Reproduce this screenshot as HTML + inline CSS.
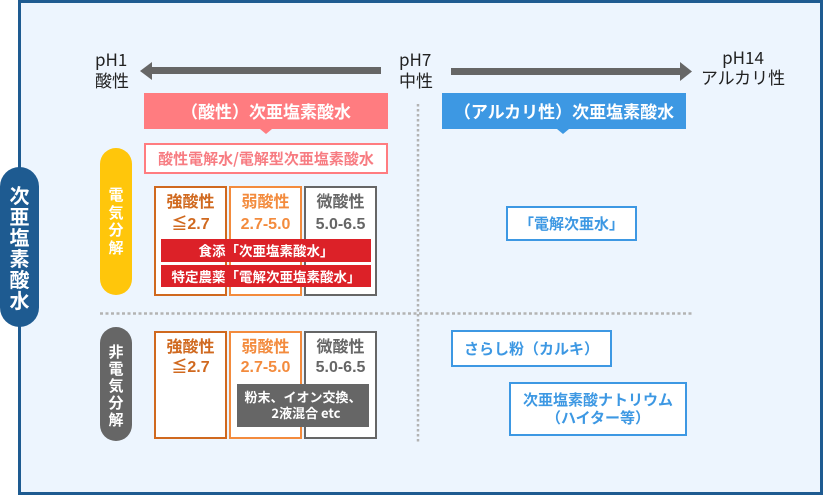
<!DOCTYPE html>
<html><head><meta charset="utf-8">
<style>
*{margin:0;padding:0;box-sizing:border-box}
html,body{width:823px;height:495px;overflow:hidden;background:#fff}
body{position:relative;font-family:"Liberation Sans","Noto Sans CJK JP",sans-serif}
.a{position:absolute}
.frame{left:18px;top:0;width:805px;height:495px;border:3px solid #1e5b91;background:#edf5fe}
.lbl{font-size:17px;line-height:21px;color:#222;font-family:"Noto Sans CJK JP",sans-serif}
.ban{height:36px;width:244px;top:93px;color:#fff;font-weight:bold;font-size:17px;line-height:36px;text-align:center;font-family:"Noto Sans CJK JP",sans-serif}
.tri{width:0;height:0;border-left:6px solid transparent;border-right:6px solid transparent;top:129px}
.box{border:2px solid;background:#fff;text-align:center;font-weight:bold;font-family:"Liberation Sans","Noto Sans CJK JP",sans-serif}
.vt{color:#fff;font-weight:bold;text-align:center;font-family:"Noto Sans CJK JP",sans-serif}
.red{left:161px;width:210px;background:#dc2128;color:#fff;font-weight:bold;font-size:13.5px;text-align:center;font-family:"Noto Sans CJK JP",sans-serif}
.bl{border:2px solid #3d98e3;background:#fff;color:#3d98e3;font-weight:bold;font-size:15px;text-align:center;font-family:"Noto Sans CJK JP",sans-serif}
</style></head><body>
<div class="a frame"></div>

<svg class="a" style="left:0;top:0" width="823" height="495">
  <rect x="151" y="67" width="230" height="7" fill="#666"/>
  <polygon points="140,71 152,62 152,80" fill="#666"/>
  <rect x="451" y="68" width="231" height="7" fill="#666"/>
  <polygon points="692,71.5 680,62 680,81" fill="#666"/>
  <line x1="418" y1="104" x2="418" y2="442" stroke="#b3b3b3" stroke-width="2.5" stroke-dasharray="2.5 2.5"/>
  <line x1="100" y1="313.5" x2="692" y2="313.5" stroke="#b3b3b3" stroke-width="2.5" stroke-dasharray="3 2.5"/>
</svg>

<div class="a vt" style="left:0;top:167px;width:39px;height:160px;background:#1e5b91;border-radius:20px;font-size:20px;line-height:21px;padding-top:17px">次<br>亜<br>塩<br>素<br>酸<br>水</div>

<div class="a lbl" style="left:95px;top:48px">pH1<br>酸性</div>
<div class="a lbl" style="left:399px;top:48px">pH7<br>中性</div>
<div class="a lbl" style="left:693px;top:47px;width:100px;text-align:center;line-height:20px">pH14<br>アルカリ性</div>

<div class="a ban" style="left:144px;background:#ff7c80">（酸性）次亜塩素酸水</div>
<div class="a tri" style="left:260px;border-top:5px solid #ff7c80"></div>
<div class="a ban" style="left:442px;background:#3d98e3">（アルカリ性）次亜塩素酸水</div>
<div class="a tri" style="left:557px;border-top:5px solid #3d98e3"></div>

<div class="a" style="left:144px;top:143px;width:244px;height:31px;border:2px solid #ff7c80;background:#fff;color:#f77c82;font-weight:bold;font-size:15px;line-height:27px;text-align:center;font-family:'Noto Sans CJK JP',sans-serif">酸性電解水/電解型次亜塩素酸水</div>

<div class="a vt" style="left:100px;top:148px;width:32px;height:147px;background:#ffc60b;border-radius:16px;font-size:15px;line-height:17.7px;padding-top:38px">電<br>気<br>分<br>解</div>

<div class="a vt" style="left:100px;top:327px;width:32px;height:114px;background:#666;border-radius:16px;font-size:15px;line-height:17px;padding-top:16px">非<br>電<br>気<br>分<br>解</div>

<div class="a box" style="left:154px;top:186px;width:73px;height:110px;border-color:#d0691f;color:#d0691f;font-size:16px;line-height:22px;padding-top:4px">強酸性<br>≦2.7</div>
<div class="a box" style="left:229px;top:186px;width:73px;height:110px;border-color:#f38b3d;color:#f38b3d;font-size:16px;line-height:22px;padding-top:4px">弱酸性<br>2.7-5.0</div>
<div class="a box" style="left:304px;top:186px;width:73px;height:110px;border-color:#666;color:#666;font-size:16px;line-height:22px;padding-top:4px">微酸性<br>5.0-6.5</div>

<div class="a red" style="top:239px;height:23px;line-height:23px">食添「次亜塩素酸水」</div>
<div class="a red" style="top:265px;height:22px;line-height:22px">特定農薬「電解次亜塩素酸水」</div>

<div class="a box" style="left:154px;top:331px;width:73px;height:108px;border-color:#d0691f;color:#d0691f;font-size:16px;line-height:20px;padding-top:5px">強酸性<br>≦2.7</div>
<div class="a box" style="left:229px;top:331px;width:73px;height:108px;border-color:#f38b3d;color:#f38b3d;font-size:16px;line-height:20px;padding-top:5px">弱酸性<br>2.7-5.0</div>
<div class="a box" style="left:304px;top:331px;width:73px;height:108px;border-color:#666;color:#666;font-size:16px;line-height:20px;padding-top:5px">微酸性<br>5.0-6.5</div>

<div class="a" style="left:237px;top:384px;width:132px;height:43px;background:#666;color:#fff;font-weight:bold;font-size:13px;line-height:15.5px;text-align:center;padding-top:5px;font-family:'Noto Sans CJK JP',sans-serif">粉末、イオン交換、<br>&nbsp;&nbsp;2液混合 etc</div>

<div class="a bl" style="left:506px;top:206px;width:131px;height:35px;line-height:31px">「電解次亜水」</div>
<div class="a bl" style="left:451px;top:330px;width:161px;height:37px;line-height:33px">さらし粉（カルキ）</div>
<div class="a bl" style="left:509px;top:382px;width:178px;height:54px;line-height:18px;padding-top:7px">次亜塩素酸ナトリウム<br>（ハイター等）</div>
</body></html>
